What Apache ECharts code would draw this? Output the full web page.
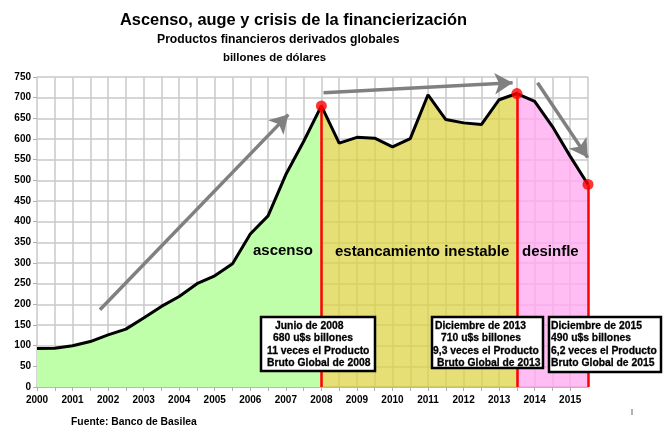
<!DOCTYPE html>
<html style="height: 100%">
<head>
    <meta charset="utf-8">
    <title>Ascenso, auge y crisis de la financierización</title>
    <script src="https://cdn.jsdelivr.net/npm/echarts@6/dist/echarts.min.js"></script>
</head>
<body style="height: 100%; margin: 0; background: #fff">
<div id="main" style="width: 669px; height: 433px"></div>
<script type="text/javascript">

    // semestres (posición en años) y valores en billones de dólares
    var semestres = [2000, 2000.5, 2001, 2001.5, 2002, 2002.5, 2003, 2003.5, 2004, 2004.5,
                     2005, 2005.5, 2006, 2006.5, 2007, 2007.5, 2008, 2008.5, 2009, 2009.5,
                     2010, 2010.5, 2011, 2011.5, 2012, 2012.5, 2013, 2013.5, 2014, 2014.5,
                     2015, 2015.5];
    var derivados = [93, 94, 100, 110, 126, 140, 167, 195, 219, 250,
                     269, 298, 370, 414, 514, 594, 680, 590, 604, 602,
                     581, 601, 707, 647, 639, 635, 695, 710, 691, 630,
                     558, 490];

    // tramos: índice de inicio y fin de cada fase
    var fases = ['ascenso', 'estancamiento inestable', 'desinfle'];
    var faseDesde = [0, 16, 27];
    var faseHasta = [16, 27, 31];
    var faseColor = ['#c0ffaa', 'rgba(219,211,65,0.72)', 'rgba(255,170,240,0.78)'];

    // puntos destacados (índices)
    var hitos = [16, 27, 31];

    // flechas de tendencia [desde, hasta] en coordenadas de datos
    var flechas = [
        [[2001.77, 187], [2007.07, 659]],
        [[2008.06, 712], [2013.38, 736]],
        [[2014.08, 736], [2015.49, 555]]
    ];

    var etiquetasY = [0, 50, 100, 150, 200, 250, 300, 350, 400, 450, 500, 550, 600, 650, 700, 750];

    // textos de los recuadros
    var caja1 = ['Junio de 2008', '680 u$s billones', '11 veces el Producto', 'Bruto Global de 2008'];
    var caja2 = ['Diciembre de 2013', '710 u$s billones', '9,3 veces el Producto', 'Bruto Global de 2013'];
    var caja3 = ['Diciembre de 2015', '490 u$s billones', '6,2 veces el Producto', 'Bruto Global de 2015'];

    var puntos = semestres.map(function (x, i) { return [x, derivados[i]]; });

    var sans = "'Liberation Sans', Arial, sans-serif";

    var series = [];
    fases.forEach(function (f, k) {
        series.push({
            name: f,
            type: 'line',
            data: puntos.slice(faseDesde[k], faseHasta[k] + 1),
            symbol: 'none',
            lineStyle: { width: 0 },
            areaStyle: { color: faseColor[k], opacity: 1 },
            z: 2
        });
    });

    series.push({
        name: 'derivados',
        type: 'line',
        data: puntos,
        symbol: 'none',
        lineStyle: { color: '#000', width: 3 },
        z: 4
    });

    series.push({
        name: 'hitos',
        type: 'scatter',
        data: hitos.map(function (i) { return puntos[i]; }),
        symbolSize: 11,
        itemStyle: { color: '#ff0000' },
        z: 6,
        markLine: {
            silent: true,
            symbol: 'none',
            label: { show: false },
            lineStyle: { color: '#ff0000', width: 2.5, type: 'solid' },
            data: hitos.map(function (i) {
                return [{ coord: [semestres[i], 0] }, { coord: [semestres[i], derivados[i]] }];
            })
        }
    });

    series.push({
        name: 'flechas',
        type: 'line',
        data: [],
        z: 5,
        markLine: {
            silent: true,
            symbol: ['none', 'arrow'],
            symbolSize: [16, 18],
            label: { show: false },
            lineStyle: { color: '#808080', width: 3.5, type: 'solid' },
            data: flechas.map(function (a) {
                return [{ coord: a[0] }, { coord: a[1] }];
            })
        }
    });

    // recuadro blanco con borde negro y sus lineas de texto
    function caja(x0, y0, x1, y1, lineas, sangrias) {
        var els = [{
            type: 'rect',
            z: 100,
            shape: { x: x0, y: y0, width: x1 - x0, height: y1 - y0 },
            style: { fill: '#fff', stroke: '#000', lineWidth: 2.5 }
        }];
        lineas.forEach(function (t, i) {
            els.push({
                type: 'text',
                z: 101,
                x: sangrias[i],
                y: y0 + 9 + i * 12.2,
                scaleX: 0.9,
                style: {
                    text: t,
                    font: 'bold 11.5px ' + sans,
                    fill: '#000',
                    stroke: '#000',
                    lineWidth: 0.3,
                    align: 'left',
                    verticalAlign: 'middle'
                }
            });
        });
        return els;
    }

    var myChart = echarts.init(document.getElementById('main'));

    var graficos = [
        { type: 'text', x: 120, y: 20, style: { text: 'Ascenso, auge y crisis de la financierización',
            font: 'bold 16.4px ' + sans, fill: '#000', verticalAlign: 'middle' } },
        { type: 'text', x: 157, y: 40, style: { text: 'Productos financieros derivados globales',
            font: 'bold 12.2px ' + sans, fill: '#000', verticalAlign: 'middle' } },
        { type: 'text', x: 223, y: 58, style: { text: 'billones de dólares',
            font: 'bold 11.4px ' + sans, fill: '#000', verticalAlign: 'middle' } },
        { type: 'text', x: 253, y: 251, z: 50, style: { text: 'ascenso',
            font: 'bold 15px ' + sans, fill: '#000', verticalAlign: 'middle' } },
        { type: 'text', x: 335, y: 252, z: 50, style: { text: 'estancamiento inestable',
            font: 'bold 15px ' + sans, fill: '#000', verticalAlign: 'middle' } },
        { type: 'text', x: 522, y: 252, z: 50, style: { text: 'desinfle',
            font: 'bold 15px ' + sans, fill: '#000', verticalAlign: 'middle' } },
        { type: 'text', x: 71, y: 422, scaleX: 0.94, style: { text: 'Fuente: Banco de Basilea',
            font: 'bold 11px ' + sans, fill: '#000', verticalAlign: 'middle' } },
        { type: 'line', shape: { x1: 632, y1: 409, x2: 632, y2: 415 },
            style: { stroke: '#999', lineWidth: 1.5 } }
    ];
    graficos = graficos
        .concat(caja(261, 317, 375, 371, caja1, [275, 273, 267, 267]))
        .concat(caja(432, 317, 543, 368, caja2, [435, 441, 433, 437]))
        .concat(caja(549, 317, 661, 372, caja3, [551, 551, 551, 551]));

    var option = {
        animation: false,
        backgroundColor: '#fff',
        grid: { left: 37, right: 81, top: 77, bottom: 46 },
        xAxis: {
            type: 'value',
            min: 2000,
            max: 2015.5,
            interval: 0.5,
            axisLine: { lineStyle: { color: '#b0b0b0', width: 1.5 } },
            axisTick: { show: true, length: 4, lineStyle: { color: '#b0b0b0' } },
            splitLine: { show: true, lineStyle: { color: '#c8c8c8', width: 1.5 } },
            axisLabel: {
                color: '#000',
                fontWeight: 'bold',
                fontSize: 10,
                fontFamily: sans,
                margin: 8,
                showMaxLabel: false,
                formatter: function (v) { return v % 1 === 0 ? String(v) : ''; }
            }
        },
        yAxis: {
            type: 'value',
            min: 0,
            max: 750,
            interval: 50,
            axisLine: { show: false },
            axisTick: { show: true, length: 4, lineStyle: { color: '#b0b0b0' } },
            splitLine: { show: true, lineStyle: { color: '#c8c8c8', width: 1.5 } },
            axisLabel: {
                color: '#000',
                fontWeight: 'bold',
                fontSize: 10,
                fontFamily: sans,
                margin: 6,
                formatter: function (v) { return etiquetasY.indexOf(v) >= 0 ? String(v) : ''; }
            }
        },
        series: series,
        graphic: graficos
    };

    myChart.setOption(option);
</script>
</body>
</html>
